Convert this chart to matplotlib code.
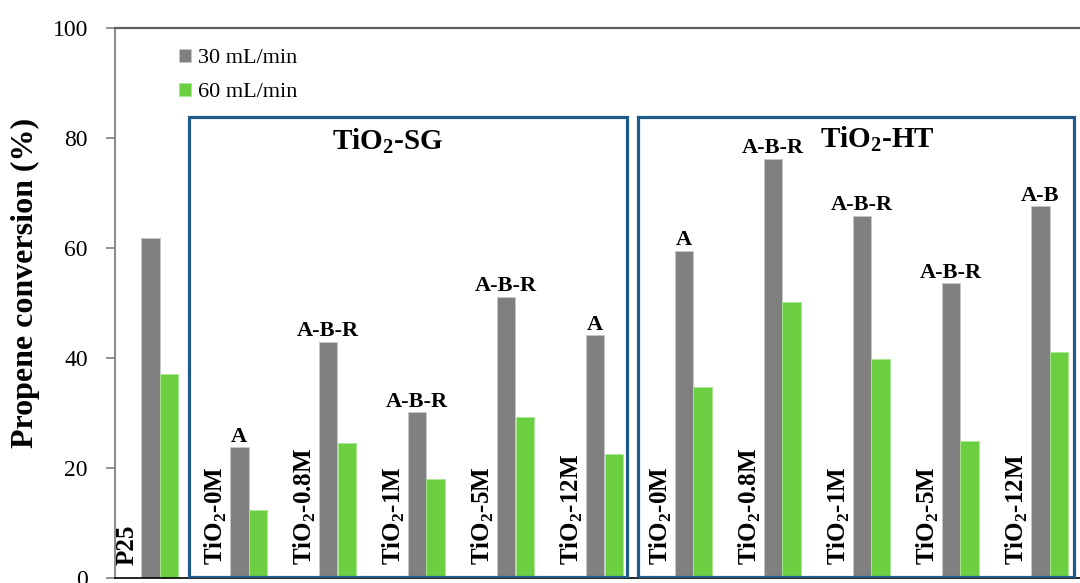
import numpy as np
import matplotlib
matplotlib.use("Agg")
import matplotlib.pyplot as plt
import matplotlib.patches as patches

plt.rcParams["font.family"] = ["Liberation Serif", "DejaVu Serif"]
plt.rcParams["mathtext.fontset"] = "custom"
plt.rcParams["mathtext.rm"] = "Liberation Serif"
plt.rcParams["mathtext.bf"] = "Liberation Serif:bold"

# samples in plotting order: commercial P25, then sol-gel and hydrothermal series
samples = ["P25", "0M", "0.8M", "1M", "5M", "12M", "0M", "0.8M", "1M", "5M", "12M"]
conv_30 = [61.8, 23.8, 42.9, 30.1, 51.1, 44.1, 59.5, 76.2, 65.9, 53.6, 67.6]
conv_60 = [37.1, 12.4, 24.6, 18.0, 29.2, 22.5, 34.7, 50.1, 39.8, 25.0, 41.1]
phases = ["", "A", "A-B-R", "A-B-R", "A-B-R", "A", "A", "A-B-R", "A-B-R", "A-B-R", "A-B"]
series_names = ["30 mL/min", "60 mL/min"]
y_ticks = [0, 20, 40, 60, 80, 100]

GRAY = "#808080"
GREEN = "#6ccf42"
BOX = "#1f5b8a"

fig = plt.figure(figsize=(10.8, 5.83), dpi=100)
# plot area runs past the right edge, as in the exported figure
ax = fig.add_axes([115 / 1080, 5 / 583, 979 / 1080, 550 / 583])

x = np.arange(len(samples))
w = 0.21
b1 = ax.bar(x - w / 2, conv_30, w, color=GRAY, edgecolor="#c8c8c8", linewidth=0.6,
            label=series_names[0], zorder=2)
b2 = ax.bar(x + w / 2, conv_60, w, color=GREEN, edgecolor="#a8e890", linewidth=0.6,
            label=series_names[1], zorder=2)

# crystalline phases above the 30 mL/min bars
for xi, val, ph in zip(x, conv_30, phases):
    if ph:
        ax.annotate(ph, (xi - w / 2, val), xytext=(0, 4), textcoords="offset points",
                    ha="center", va="baseline", fontsize=16, fontweight="bold")

# sample names written vertically inside the plot
for xi, s in zip(x, samples):
    lab = s if s == "P25" else r"TiO$_\mathbf{2}$-" + s
    ax.text(xi - 0.37, 2.3, lab, rotation=90, ha="center", va="bottom",
            fontsize=18, fontweight="bold")

# group frames
ax.add_patch(patches.Rectangle((0.33, 0.2), 4.92, 83.7, fill=False,
                               edgecolor=BOX, linewidth=2.3, zorder=3))
ax.add_patch(patches.Rectangle((5.38, 0.2), 4.90, 83.7, fill=False,
                               edgecolor=BOX, linewidth=2.3, zorder=3))
ax.text(2.56, 77.9, r"TiO$_\mathbf{2}$-SG", ha="center", va="baseline",
        fontsize=21, fontweight="bold")
ax.text(8.07, 78.4, r"TiO$_\mathbf{2}$-HT", ha="center", va="baseline",
        fontsize=21, fontweight="bold")

ax.set_xlim(-0.5, len(samples) - 0.5)
ax.set_ylim(0, 100)
ax.set_yticks(y_ticks)
ax.set_xticks([])
ax.tick_params(axis="y", direction="out", length=6.5, width=1.2, color=GRAY,
               labelsize=17, pad=13)

ax.spines["right"].set_visible(False)
ax.spines["left"].set_color(GRAY)
ax.spines["left"].set_linewidth(1.3)
ax.spines["top"].set_color("#5f5f5f")
ax.spines["top"].set_linewidth(1.6)
ax.spines["bottom"].set_color("black")
ax.spines["bottom"].set_linewidth(1.2)

fig.text(25 / 1080, 1 - 283 / 583, "Propene conversion (%)", rotation=90,
         ha="center", va="center", fontsize=23, fontweight="bold")

ax.legend(handles=[b1, b2], loc="upper left", bbox_to_anchor=(0.0654, 0.962),
          frameon=False, fontsize=16, handlelength=0.55, handleheight=0.55,
          handletextpad=0.3, labelspacing=0.65, borderpad=0, borderaxespad=0)

fig.savefig("out.png", dpi=100)
